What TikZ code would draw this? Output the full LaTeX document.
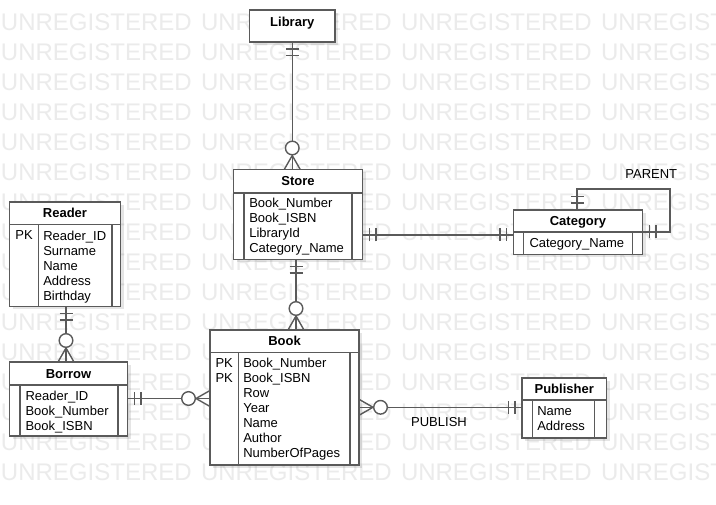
\documentclass[tikz,border=0pt]{standalone}
\usepackage{fontspec}
\setmainfont{Liberation Sans}
\usetikzlibrary{calc,shadows}
\definecolor{lncol}{HTML}{5A5A5A}
\definecolor{wmcol}{HTML}{EBEBEB}
\begin{document}
\begin{tikzpicture}[x=1pt,y=1pt,
  every node/.style={inner sep=0pt, outer sep=0pt},
  ln/.style={draw=lncol, line width=1.4pt},
  ent/.style={ln, fill=white, rectangle, anchor=north west,
    drop shadow={shadow xshift=3pt, shadow yshift=-3pt, fill=black, opacity=0.10}},
  ttl/.style={font=\bfseries\fontsize{13}{15}\selectfont, text=black, anchor=base},
  attr/.style={font=\fontsize{13}{15}\selectfont, align=left, anchor=north west, text=black},
  wmk/.style={font=\fontsize{24}{24}\selectfont, text=wmcol, anchor=base west},
  lbl/.style={font=\fontsize{13}{15}\selectfont, text=black, anchor=base},
  mone/.pic={\draw[ln] (7,-6.5)--(7,6.5) (13.5,-6.5)--(13.5,6.5);},
  zmany/.pic={\draw[ln] (0,-8)--(14,0)--(0,8); \draw[ln, fill=white] (21.5,0) circle (6.8);},
]
\fill[white] (0,0) rectangle (716,-505);
\useasboundingbox (0,0) rectangle (716,-505);
% watermark
\begin{scope}
\clip (0,0) rectangle (716,-505);
\foreach \r in {0,...,15}{
  \foreach \c in {0,...,3}{
    \node[wmk] (wm-\r-\c) at (1+200*\c, -30.3-30*\r) {UNREGISTERED};
  }
}
\end{scope}

% Library
\node[ent, minimum width=85.5, minimum height=32] (library) at (249.5,-10) {};
\node[ttl] (libraryT) at (292.25,-26.3) {Library};

% Store
\node[ent, minimum width=129, minimum height=90] (store) at (233.5,-169.5) {};
\draw[ln] (233.5,-193) -- (362.5,-193) (244,-193) -- (244,-259.5) (352,-193) -- (352,-259.5);
\node[ttl] (storeT) at (298,-186) {Store};
\node[attr] (storeA) at (249.3,-198.5) {Book\_Number\\Book\_ISBN\\LibraryId\\Category\_Name};

% Reader
\node[ent, minimum width=111, minimum height=104.5] (reader) at (9.5,-202) {};
\draw[ln] (9.5,-224.5) -- (120.5,-224.5) (38.5,-224.5) -- (38.5,-306.5) (112,-224.5) -- (112,-306.5);
\node[ttl] (readerT) at (65,-218) {Reader};
\node[attr] (readerK) at (15.5,-231) {PK};
\node[attr] (readerA) at (43.3,-231) {Reader\_ID\\Surname\\Name\\Address\\Birthday};

% Borrow
\node[ent, minimum width=118, minimum height=74] (borrow) at (9.5,-362) {};
\draw[ln] (9.5,-385) -- (127.5,-385) (20,-385) -- (20,-436) (118,-385) -- (118,-436);
\node[ttl] (borrowT) at (68.5,-378.2) {Borrow};
\node[attr] (borrowA) at (25.5,-391) {Reader\_ID\\Book\_Number\\Book\_ISBN};

% Book
\node[ent, minimum width=149, minimum height=135] (book) at (210,-330) {};
\draw[ln] (210,-352.5) -- (359,-352.5) (238.5,-352.5) -- (238.5,-465) (350,-352.5) -- (350,-465);
\node[ttl] (bookT) at (284.5,-346) {Book};
\node[attr] (bookK) at (215.5,-358.5) {PK\\PK};
\node[attr] (bookA) at (243.3,-358.5) {Book\_Number\\Book\_ISBN\\Row\\Year\\Name\\Author\\NumberOfPages};

% Category
\node[ent, minimum width=129, minimum height=44.5] (category) at (513.5,-210) {};
\draw[ln] (513.5,-232) -- (642.5,-232) (523.5,-232) -- (523.5,-254.5) (632.5,-232) -- (632.5,-254.5);
\node[ttl] (categoryT) at (578,-225.7) {Category};
\node[attr] (categoryA) at (529.5,-238.5) {Category\_Name};

% Publisher
\node[ent, minimum width=84.5, minimum height=60] (publisher) at (522,-378) {};
\draw[ln] (522,-400) -- (606.5,-400) (532.5,-400) -- (532.5,-438) (594.5,-400) -- (594.5,-438);
\node[ttl] (publisherT) at (564.25,-393.7) {Publisher};
\node[attr] (publisherA) at (537.3,-407) {Name\\Address};

% Connectors
\draw[ln] (library.south) -- (library.south |- store.north);
\pic[rotate=-90] at (library.south) {mone};
\pic[rotate=90] at (library.south |- store.north) {zmany};

\draw[ln] (store.south -| 296,0) -- (book.north -| 296,0);
\pic[rotate=-90] at (store.south -| 296,0) {mone};
\pic[rotate=90] at (book.north -| 296,0) {zmany};

\draw[ln] (store.east |- 0,-235) -- (category.west |- 0,-235);
\pic at (store.east |- 0,-235) {mone};
\pic[rotate=180] at (category.west |- 0,-235) {mone};

\draw[ln] (category.north -| 577,0) -- (577,-189) -- (670,-189) -- (670,-232) -- (category.east |- 0,-232);
\pic[rotate=90] at (category.north -| 577,0) {mone};
\pic at (category.east |- 0,-232) {mone};
\node[lbl] (parentL) at (651.3,-178.7) {PARENT};

\draw[ln] (reader.south -| 66,0) -- (borrow.north -| 66,0);
\pic[rotate=-90] at (reader.south -| 66,0) {mone};
\pic[rotate=90] at (borrow.north -| 66,0) {zmany};

\draw[ln] (borrow.east |- 0,-398.5) -- (book.west |- 0,-398.5);
\pic at (borrow.east |- 0,-398.5) {mone};
\pic[rotate=180] at (book.west |- 0,-398.5) {zmany};

\draw[ln] (book.east |- 0,-407.3) -- (publisher.west |- 0,-407.3);
\pic at (book.east |- 0,-407.3) {zmany};
\pic[rotate=180] at (publisher.west |- 0,-407.3) {mone};
\node[lbl] (publishL) at (439,-426.4) {PUBLISH};
\end{tikzpicture}
\end{document}
